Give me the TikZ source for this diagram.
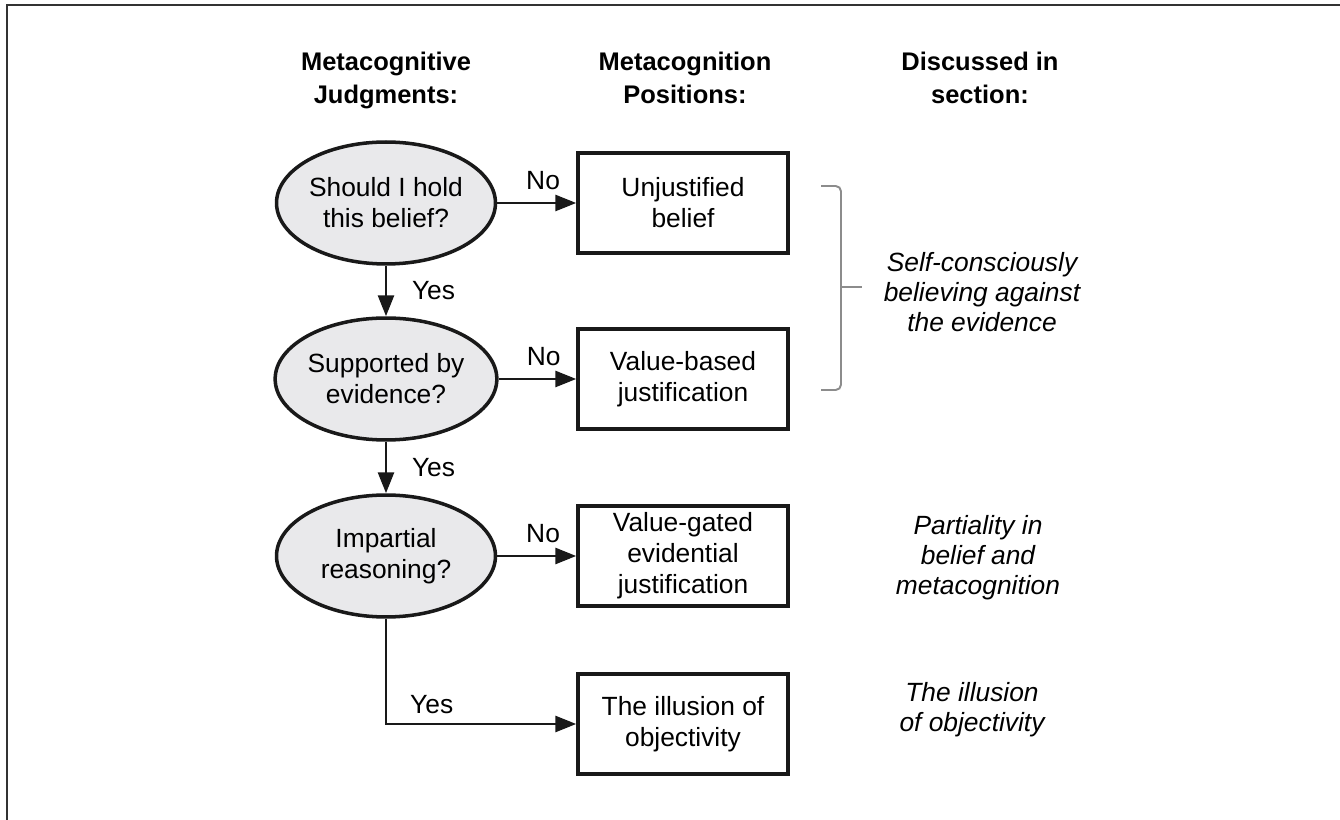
\documentclass[tikz,border=0pt]{standalone}
\usepackage{fontspec}
\setmainfont{Liberation Sans}
\usetikzlibrary{shapes.geometric,arrows.meta}
\definecolor{qgray}{HTML}{E9E9EB}

\begin{document}
\begin{tikzpicture}[x=0.02cm, y=-0.02cm]
    \tikzset{
        qjob/.style={ellipse, draw=black!90, line width=2pt, fill=qgray, minimum width=4.38cm, minimum height=2.44cm, inner sep=0pt, align=center, font=\fontsize{15}{17.6}\selectfont},
        pjob/.style={rectangle, draw=black!90, line width=2pt, minimum width=4.2cm, minimum height=2cm, inner sep=2pt, align=center, font=\fontsize{15}{17.6}\selectfont},
        phead/.style={anchor=north, align=center, font=\fontsize{14.5}{18.6}\selectfont\bfseries},
        psect/.style={align=center, font=\fontsize{15}{17}\selectfont\itshape},
        parrow/.style={-{Triangle[length=0.42cm, width=0.32cm]}, line width=1.6pt, draw=black!90},
        plabel/.style={font=\fontsize{15}{17}\selectfont, inner sep=2pt},
    }
    \useasboundingbox (0,0) rectangle (1340,820);

    % Рамка:
    \draw[line width=1.1pt, black!80] (7,820) -- (7,5) -- (1340,5);

    % Заголовки:
    \node[phead] (h-judg) at (386,46) {Metacognitive\\Judgments:};
    \node[phead] (h-pos) at (685,46) {Metacognition\\Positions:};
    \node[phead] (h-sect) at (980,46) {Discussed in\\section:};

    % Вопросы и позиции:
    \foreach \y/\t/\q/\p in {203/1/{Should I hold\\this belief?}/{Unjustified\\belief},
                             379/2/{Supported by\\evidence?}/{Value-based\\justification},
                             556/3/{Impartial\\reasoning?}/{Value-gated\\evidential\\justification}} {
        \node[qjob] (q-\t) at (386,\y) {\q};
        \node[pjob] (p-\t) at (683,\y) {\p};
        \draw[parrow] (q-\t) -- node[plabel, pos=0.58, above=5pt] {No} (p-\t);
    }
    \node[pjob] (p-4) at (683,724) {The illusion of\\objectivity};

    \draw[parrow] (q-1) -- node[plabel, right=12pt] {Yes} (q-2);
    \draw[parrow] (q-2) -- node[plabel, right=12pt] {Yes} (q-3);
    \draw[parrow] (q-3) |- node[plabel, pos=0.62, above=3pt] {Yes} (p-4);

    % Скобка:
    \draw[black!45, line width=1.1pt, rounded corners=3pt] (821,186) -| (841,287) |- (821,390);
    \draw[black!45, line width=1.1pt] (841,287) -- (862,287);

    % Разделы:
    \node[psect] (s-1) at (982,292) {Self-consciously\\believing against\\the evidence};
    \node[psect] (s-2) at (978,558) {Partiality in\\belief and\\metacognition};
    \node[psect] (s-3) at (972,710) {The illusion\\of objectivity};
\end{tikzpicture}
\end{document}
